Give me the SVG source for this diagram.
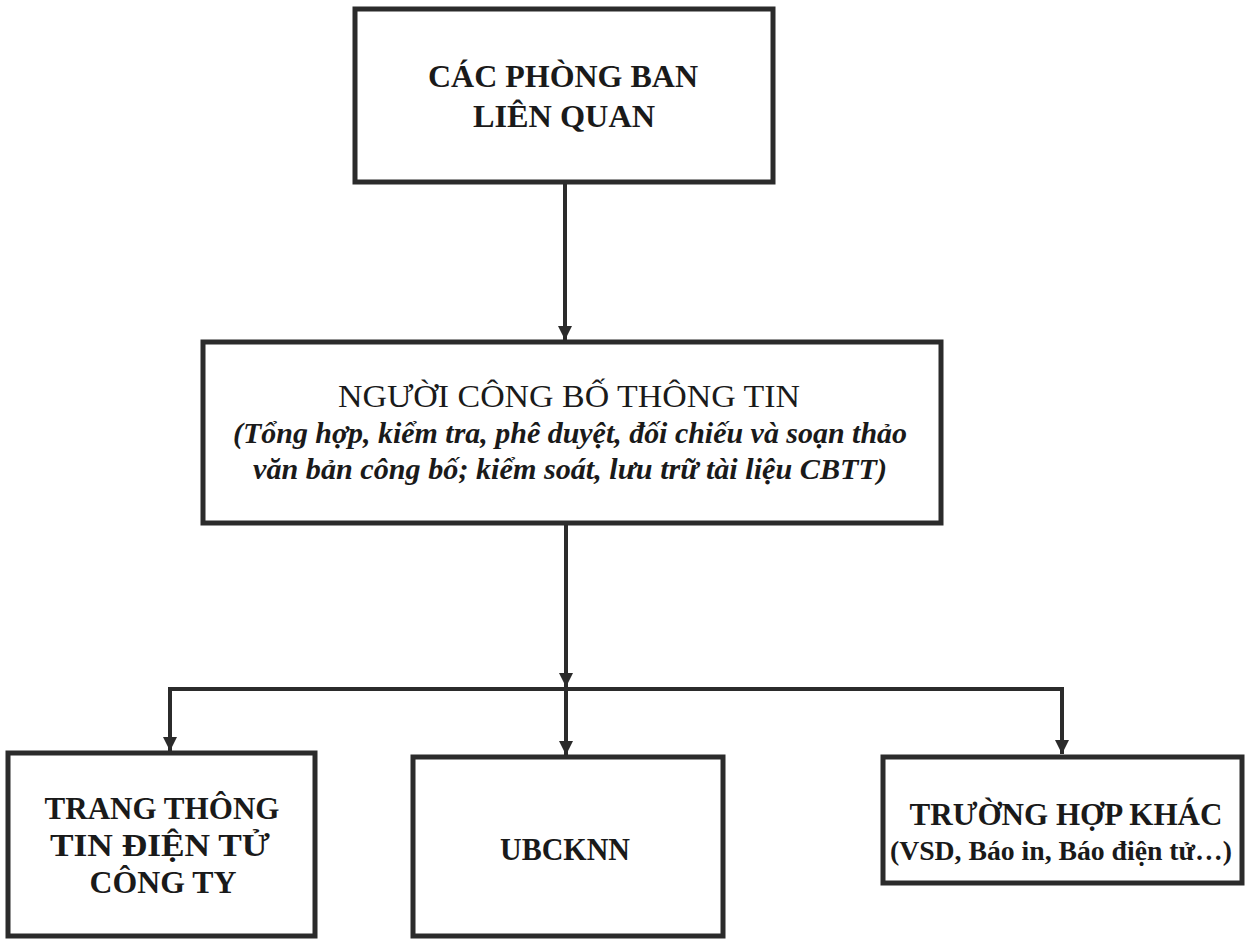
<svg xmlns="http://www.w3.org/2000/svg" width="1245" height="940" viewBox="0 0 1245 940">
<style>
.box{fill:none;stroke:#2b2b2b;stroke-width:5}
.t{font-family:"Liberation Serif","Times New Roman",serif;font-size:31px;fill:#1a1a1a;text-anchor:middle}
.b{font-weight:bold}
.r{font-size:32px}
.i{font-weight:bold;font-style:italic;font-size:30px}
.s{font-size:28px}
.c{fill:none;stroke:#2b2b2b;stroke-width:4}
</style>
<defs>
<marker id="ah" markerUnits="userSpaceOnUse" markerWidth="16" markerHeight="16" refX="14" refY="7" orient="auto">
<path d="M0,0 L14,7 L0,14 Z" fill="#2b2b2b"/>
</marker>
</defs>
<rect width="1245" height="940" fill="#ffffff"/>
<g id="connectors">
<line class="c" x1="565" y1="182" x2="565" y2="340" marker-end="url(#ah)"/>
<line class="c" x1="566" y1="523" x2="566" y2="687" marker-end="url(#ah)"/>
<polyline class="c" points="170,689 1062,689 1062,754" marker-end="url(#ah)"/>
<line class="c" x1="170" y1="687" x2="170" y2="751" marker-end="url(#ah)"/>
<line class="c" x1="566" y1="689" x2="566" y2="755" marker-end="url(#ah)"/>
</g>
<g id="node-phongban">
<rect class="box" x="355" y="9" width="418" height="173"/>
<text class="t b" x="563" y="87" textLength="270" lengthAdjust="spacingAndGlyphs">CÁC PHÒNG BAN</text>
<text class="t b" x="564" y="127" textLength="182" lengthAdjust="spacingAndGlyphs">LIÊN QUAN</text>
</g>
<g id="node-nguoicbtt">
<rect class="box" x="203" y="342" width="738" height="181"/>
<text class="t r" x="569" y="407" textLength="462" lengthAdjust="spacingAndGlyphs">NGƯỜI CÔNG BỐ THÔNG TIN</text>
<text class="t i" x="570" y="443" textLength="674" lengthAdjust="spacingAndGlyphs">(Tổng hợp, kiểm tra, phê duyệt, đối chiếu và soạn thảo</text>
<text class="t i" x="570" y="479" textLength="634" lengthAdjust="spacingAndGlyphs">văn bản công bố; kiểm soát, lưu trữ tài liệu CBTT)</text>
</g>
<g id="node-trangtt">
<rect class="box" x="8" y="753" width="307" height="183"/>
<text class="t b" x="162" y="819" textLength="235" lengthAdjust="spacingAndGlyphs">TRANG THÔNG</text>
<text class="t b" x="160" y="856" textLength="220" lengthAdjust="spacingAndGlyphs">TIN ĐIỆN TỬ</text>
<text class="t b" x="163" y="893" textLength="147" lengthAdjust="spacingAndGlyphs">CÔNG TY</text>
</g>
<g id="node-ubcknn">
<rect class="box" x="413" y="757" width="310" height="179"/>
<text class="t b" x="565" y="860" textLength="130" lengthAdjust="spacingAndGlyphs">UBCKNN</text>
</g>
<g id="node-khac">
<rect class="box" x="883" y="757" width="359" height="126"/>
<text class="t b" x="1066" y="825" textLength="313" lengthAdjust="spacingAndGlyphs">TRƯỜNG HỢP KHÁC</text>
<text class="t b s" x="1061" y="860" textLength="342" lengthAdjust="spacingAndGlyphs">(VSD, Báo in, Báo điện tử…)</text>
</g>
</svg>
